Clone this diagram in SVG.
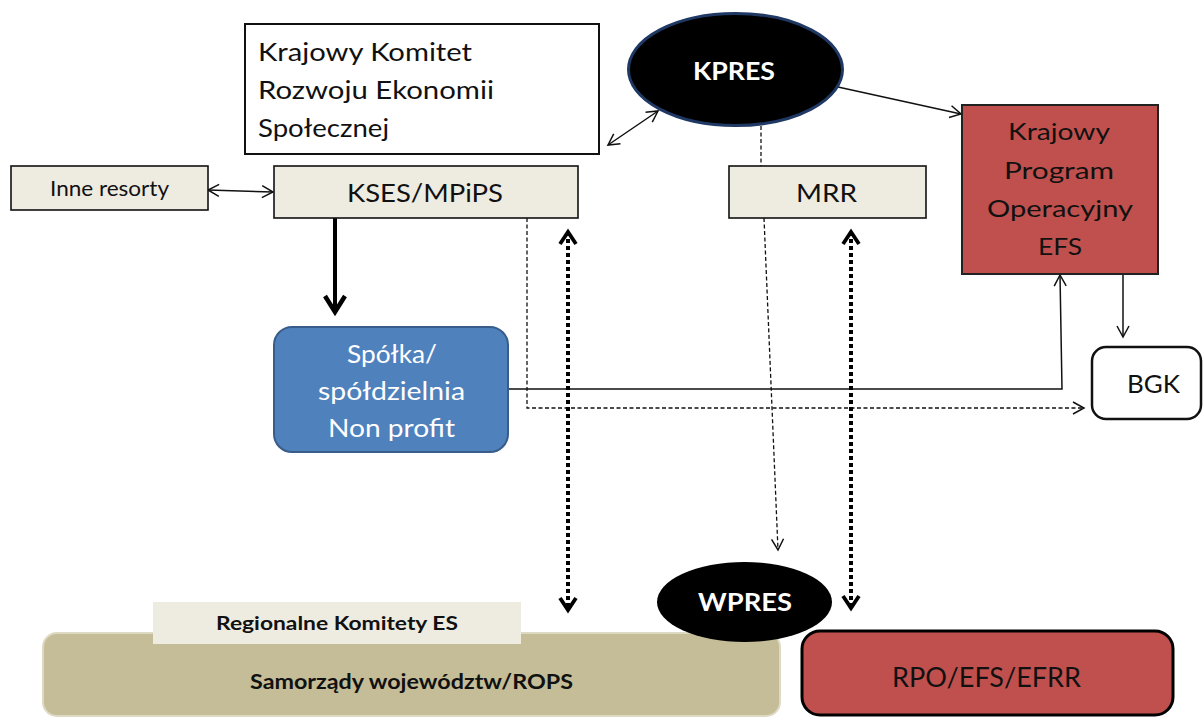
<svg xmlns="http://www.w3.org/2000/svg" width="1204" height="717" viewBox="0 0 1204 717">
<defs>
<style>
.t{font-family:Lato,"Open Sans","Liberation Sans",sans-serif;fill:#111}
.b{font-weight:bold}
.w{fill:#fff}
.beige{fill:#eeece1;stroke:#111;stroke-width:1.6}
.thin{fill:none;stroke:#111;stroke-width:1.5}
.dash{fill:none;stroke:#111;stroke-width:1.3;stroke-dasharray:4 2.5}
.dot{fill:none;stroke:#000;stroke-width:4;stroke-dasharray:4 3}
</style>
<marker id="arr" markerUnits="userSpaceOnUse" markerWidth="16" markerHeight="16" refX="12" refY="7" orient="auto-start-reverse" overflow="visible">
<path d="M1,1 L12,7 L1,13" fill="none" stroke="#111" stroke-width="1.5"/>
</marker>
<marker id="big" markerUnits="userSpaceOnUse" markerWidth="24" markerHeight="24" refX="18" refY="11" orient="auto" overflow="visible">
<path d="M2,1 L18,11 L2,21" fill="none" stroke="#000" stroke-width="4.5"/>
</marker>
<marker id="dotarr" markerUnits="userSpaceOnUse" markerWidth="20" markerHeight="20" refX="14" refY="9" orient="auto-start-reverse" overflow="visible">
<path d="M2,1 L14,9 L2,17" fill="none" stroke="#000" stroke-width="3.8"/>
</marker>
</defs>
<rect width="1204" height="717" fill="#fff"/>

<g id="connectors">
<line x1="208" y1="190" x2="273" y2="192" class="thin" marker-start="url(#arr)" marker-end="url(#arr)"/>
<line x1="608" y1="145" x2="658" y2="111" class="thin" marker-start="url(#arr)" marker-end="url(#arr)"/>
<line x1="838" y1="87" x2="961" y2="114" class="thin" marker-end="url(#arr)"/>
<line x1="761" y1="126" x2="761" y2="166" class="dash"/>
<line x1="335" y1="218" x2="335" y2="312" fill="none" stroke="#000" stroke-width="4" marker-end="url(#big)"/>
<path d="M527,218 V408 H1084" class="dash" stroke-dasharray="5 2.5" marker-end="url(#arr)"/>
<path d="M764,218 L778,550" class="dash" marker-end="url(#arr)"/>
<path d="M508,389 H1062 L1060,275" class="thin" marker-end="url(#arr)"/>
<line x1="1123" y1="274" x2="1123" y2="337" class="thin" marker-end="url(#arr)"/>
<line x1="568" y1="232" x2="568" y2="610" class="dot" marker-start="url(#dotarr)" marker-end="url(#dotarr)"/>
<line x1="851" y1="232" x2="851" y2="608" class="dot" marker-start="url(#dotarr)" marker-end="url(#dotarr)"/>
</g>

<g id="kk">
<rect x="245" y="24" width="354" height="130" fill="#fff" stroke="#111" stroke-width="2"/>
<text class="t" x="258" y="61" font-size="25.5" textLength="214" lengthAdjust="spacingAndGlyphs">Krajowy Komitet</text>
<text class="t" x="258" y="99" font-size="25.5" textLength="236" lengthAdjust="spacingAndGlyphs">Rozwoju Ekonomii</text>
<text class="t" x="258" y="137" font-size="25.5" textLength="131" lengthAdjust="spacingAndGlyphs">Społecznej</text>
</g>

<g id="inne">
<rect x="11" y="166" width="197" height="44" class="beige"/>
<text class="t" x="50" y="196" font-size="21" textLength="119" lengthAdjust="spacingAndGlyphs">Inne resorty</text>
</g>

<g id="kses">
<rect x="274" y="166" width="304" height="52" class="beige"/>
<text class="t" x="347" y="202" font-size="24.5" textLength="156" lengthAdjust="spacingAndGlyphs">KSES/MPiPS</text>
</g>

<g id="kpres">
<ellipse cx="735.5" cy="69.5" rx="107" ry="56" fill="#000" stroke="#1f3864" stroke-width="3"/>
<text class="t b w" x="693" y="80" font-size="25" textLength="82" lengthAdjust="spacingAndGlyphs">KPRES</text>
</g>

<g id="mrr">
<rect x="729" y="166" width="197" height="52" class="beige"/>
<text class="t" x="796" y="202" font-size="24.5" textLength="61" lengthAdjust="spacingAndGlyphs">MRR</text>
</g>

<g id="kpo">
<rect x="962" y="105" width="196" height="169" fill="#c0504d" stroke="#222" stroke-width="2"/>
<text class="t" x="1008" y="140" font-size="24" textLength="102" lengthAdjust="spacingAndGlyphs">Krajowy</text>
<text class="t" x="1004" y="179" font-size="24" textLength="110" lengthAdjust="spacingAndGlyphs">Program</text>
<text class="t" x="987" y="217" font-size="24" textLength="146" lengthAdjust="spacingAndGlyphs">Operacyjny</text>
<text class="t" x="1038" y="255" font-size="24" textLength="44" lengthAdjust="spacingAndGlyphs">EFS</text>
</g>

<g id="spolka">
<rect x="274" y="327" width="234" height="125" rx="18" fill="#4f81bd" stroke="#385d8a" stroke-width="2"/>
<text class="t w" x="347" y="363" font-size="25" textLength="90" lengthAdjust="spacingAndGlyphs">Spółka/</text>
<text class="t w" x="318" y="400" font-size="25" textLength="147" lengthAdjust="spacingAndGlyphs">spółdzielnia</text>
<text class="t w" x="328" y="437" font-size="25" textLength="127" lengthAdjust="spacingAndGlyphs">Non profit</text>
</g>

<g id="bgk">
<rect x="1092" y="347" width="109" height="72" rx="14" fill="#fff" stroke="#111" stroke-width="2.5"/>
<text class="t" x="1127" y="393" font-size="25" textLength="53" lengthAdjust="spacingAndGlyphs">BGK</text>
</g>

<g id="samorzady">
<rect x="43" y="633" width="737" height="83" rx="14" fill="#c4bd97" stroke="#ddd9c3" stroke-width="2"/>
<text class="t b" x="250" y="689" font-size="21" textLength="323" lengthAdjust="spacingAndGlyphs">Samorządy województw/ROPS</text>
</g>

<g id="regionalne">
<rect x="153" y="602" width="368" height="42" fill="#eeece1"/>
<text class="t b" x="216" y="630" font-size="19" textLength="242" lengthAdjust="spacingAndGlyphs">Regionalne Komitety ES</text>
</g>

<g id="rpo">
<rect x="802" y="631" width="371" height="84" rx="18" fill="#c0504d" stroke="#000" stroke-width="3"/>
<text class="t" x="892" y="687" font-size="26" textLength="189" lengthAdjust="spacingAndGlyphs">RPO/EFS/EFRR</text>
</g>

<g id="wpres">
<ellipse cx="744.5" cy="602" rx="87.5" ry="40" fill="#000"/>
<text class="t b w" x="698" y="611" font-size="25" textLength="94" lengthAdjust="spacingAndGlyphs">WPRES</text>
</g>
</svg>
